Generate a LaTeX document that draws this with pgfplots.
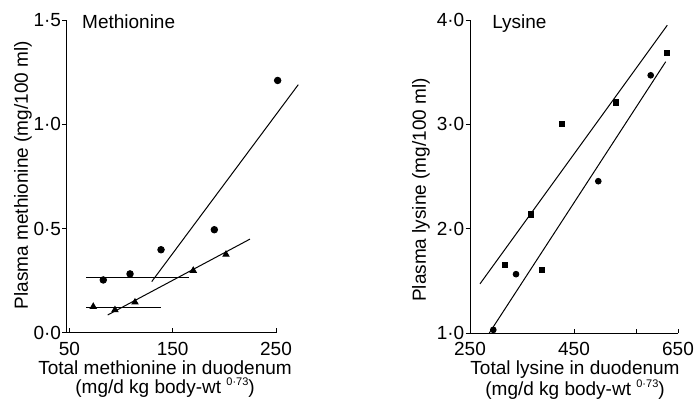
\documentclass[border=0pt]{standalone}
\usepackage{fontspec}
\setmainfont{Liberation Sans}
\usepackage{pgfplots}
\pgfplotsset{compat=1.18}
\newcommand{\sups}[1]{\raisebox{0.42em}{\fontsize{11}{11}\selectfont #1}}
\begin{document}
\begin{tikzpicture}[font=\fontsize{19}{19}\selectfont]
\useasboundingbox (0,0) rectangle (696pt,400pt);
\pgfplotsset{
  panel/.style={
    scale only axis, anchor=south west,
    axis x line=bottom, axis y line=left,
    axis line style={-, line width=0.9pt, black},
    tick align=outside, major tick length=4.5pt,
    tick style={black, line width=0.9pt},
    every x tick/.append style={yshift=4.5pt},
    clip=false,
    yticklabel style={inner sep=1pt},
    xticklabel style={inner ysep=5pt},
    xlabel style={align=center, inner sep=0pt, anchor=north},
    ylabel style={inner sep=0pt, anchor=south},
    every axis plot/.append style={black, line width=1pt},
  }
}
% ---------------- Methionine ----------------
\begin{axis}[panel, at={(66.7pt,67.3pt)}, width=209.3pt, height=312.7pt,
  xmin=47.4, xmax=250, ymin=0, ymax=1.5,
  xtick={50,150,250}, xticklabels={50,150,250},
  ytick={0,0.5,1,1.5}, yticklabels={0·0,0·5,1·0,1·5},
  xlabel={Total methionine in duodenum\\(mg/d kg body-wt \sups{0·73})},
  xlabel style={at={(axis description cs:0.47,0)}, yshift=-27.5pt},
  ylabel={Plasma methionine (mg/100 ml)},
  ylabel style={at={(axis description cs:-0.166,0.504)}},
]
\addplot[only marks, mark=*, mark size=3.2pt] coordinates {
  (82.8,0.253) (108.7,0.282) (138.7,0.398) (190.3,0.494) (251.6,1.21)};
\addplot[only marks, mark=triangle*, mark size=3.4pt] coordinates {
  (73.1,0.125) (94.1,0.109) (113.5,0.146) (169.9,0.298) (201.6,0.375)};
\addplot[no marks] coordinates {(66.1,0.266) (166.1,0.266)};
\addplot[no marks] coordinates {(66.1,0.119) (138.4,0.119)};
\addplot[no marks] coordinates {(129.7,0.245) (271.6,1.19)};
\addplot[no marks] coordinates {(87.1,0.085) (224.8,0.449)};
\node[anchor=base west, inner sep=0pt] at (axis description cs:0.073,0.974) {Methionine};
\end{axis}
% ---------------- Lysine ----------------
\begin{axis}[panel, at={(470pt,67pt)}, width=208pt, height=313pt,
  xmin=250, xmax=650, ymin=1, ymax=4,
  xtick={250,450,650}, xticklabels={250,450,650},
  extra x ticks={570}, extra x tick labels={},
  ytick={1,2,3,4}, yticklabels={1·0,2·0,3·0,4·0},
  xlabel={Total lysine in duodenum\\(mg/d kg body-wt \sups{0·73})},
  xlabel style={at={(axis description cs:0.505,0)}, yshift=-27.5pt},
  ylabel={Plasma lysine (mg/100 ml)},
  ylabel style={at={(axis description cs:-0.192,0.457)}},
]
\addplot[only marks, mark=square*, mark size=2.6pt] coordinates {
  (317.3,1.654) (366.7,2.135) (387.9,1.606) (426.3,3.0) (530.2,3.21) (629.4,3.68)};
\addplot[only marks, mark=*, mark size=2.8pt] coordinates {
  (294.8,1.03) (338.5,1.564) (496.7,2.455) (597.5,3.47)};
\addplot[no marks] coordinates {(269.2,1.471) (629.4,3.95)};
\addplot[no marks] coordinates {(287.1,1.0) (626.3,3.60)};
\node[anchor=base west, inner sep=0pt] at (axis description cs:0.106,0.974) {Lysine};
\end{axis}
\end{tikzpicture}
\end{document}
